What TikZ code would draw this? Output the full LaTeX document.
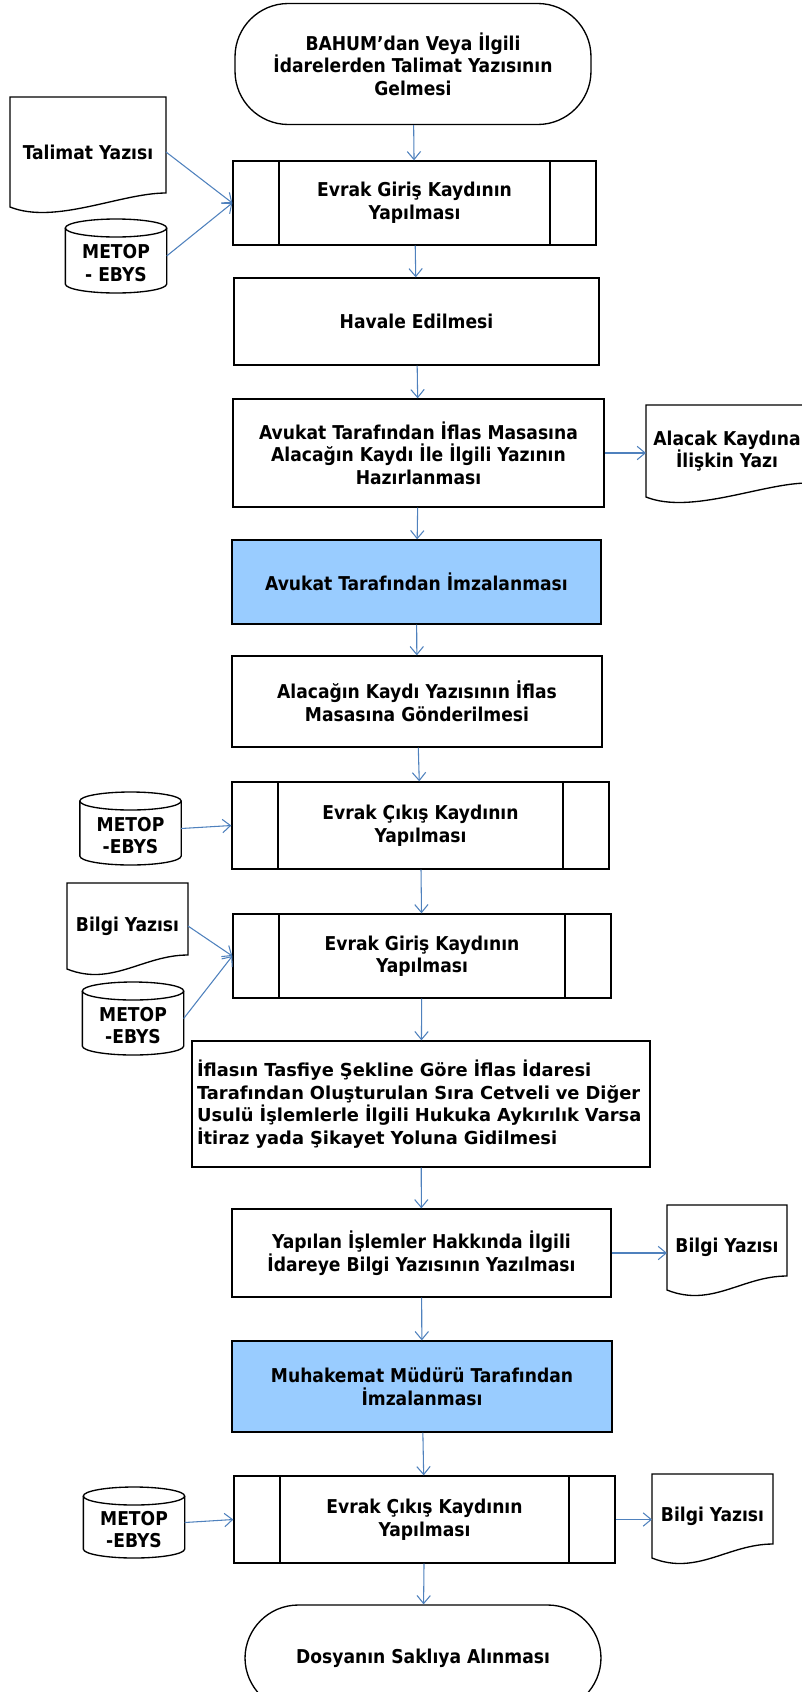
\documentclass[tikz,border=0pt]{standalone}
\usepackage{fontspec}
\setmainfont{DejaVu Sans Condensed}
\newfontfamily\genisyazi{DejaVu Sans}
\usepackage{xcolor}
\usepackage{tikz}
\usetikzlibrary{arrows.meta,calc}

\definecolor{okmavi}{RGB}{79,129,189}
\definecolor{imzamavi}{RGB}{153,204,255}
\newcommand{\yazi}{\fontsize{14.3pt}{16.9pt}\selectfont\bfseries}
\newcommand{\vtbosluk}{\rule{0pt}{21pt}}

% belge sekli (alt kenari dalgali)
\newcommand{\belgeciz}[1]{%
  \draw[cizgi] (#1.north west) -- (#1.north east) -- ($(#1.south east)+(0,-14)$)
    .. controls +(-45,0) and +(45,18) .. (#1.south west) -- cycle;}
% veritabani silindiri
\newcommand{\vtciz}[1]{%
  \draw[cizgi] ([yshift=-6.75pt]#1.north west) -- ([yshift=6.75pt]#1.south west)
    arc[start angle=180,end angle=360,x radius=38pt,y radius=6.75pt]
    -- ([yshift=-6.75pt]#1.north east);
  \draw[cizgi] ([yshift=-6.75pt]#1.north) ellipse[x radius=38pt,y radius=6.75pt];}
% alt surec cizgileri
\newcommand{\altsurec}[1]{%
  \draw[cizgi] ([xshift=35pt]#1.north west) -- ([xshift=35pt]#1.south west);
  \draw[cizgi] ([xshift=-35pt]#1.north east) -- ([xshift=-35pt]#1.south east);}

\begin{document}
\begin{tikzpicture}[x=0.75pt,y=-0.75pt,
    cizgi/.style={line width=1pt},
    kutu/.style={draw, cizgi, align=center, font=\yazi, inner sep=2pt},
    uc/.style={kutu, rounded corners=40pt},
    imza/.style={kutu, fill=imzamavi},
    belge/.style={align=center, font=\yazi, inner sep=0pt, outer sep=0pt},
    vt/.style={align=center, font=\yazi, inner sep=0pt, outer sep=0pt,
      minimum width=76pt},
    ok/.style={->, draw=okmavi, line width=0.8pt,
      >={Straight Barb[length=6pt,width=10pt]}}]
    \useasboundingbox (0,0) rectangle (802,1692);

    % baslangic
    \node[uc, minimum width=267pt, minimum height=90.75pt] (basla) at (413,64)
        {BAHUM'dan Veya İlgili\\İdarelerden Talimat Yazısının\\Gelmesi};
    \node[belge, minimum width=117pt, minimum height=82.5pt] (talimat) at (88,152) {Talimat Yazısı};
    \node[vt, minimum height=55.5pt] (metop1) at (116,256) {\vtbosluk METOP\\- EBYS};
    \node[kutu, minimum width=272.25pt, minimum height=63pt] (giris1) at (414.5,203)
        {Evrak Giriş Kaydının\\Yapılması};
    \node[kutu, minimum width=273.75pt, minimum height=65.25pt] (havale) at (416.5,321.5)
        {Havale Edilmesi};
    \node[kutu, minimum width=278.25pt, minimum height=81pt] (avukat) at (418.5,453)
        {Avukat Tarafından İflas Masasına\\Alacağın Kaydı İle İlgili Yazının\\Hazırlanması};
    \node[belge, minimum width=121.5pt, minimum height=69pt] (alacak) at (727,451)
        {Alacak Kaydına\\İlişkin Yazı};
    \node[imza, minimum width=276.75pt, minimum height=63pt] (imza1) at (416.5,582)
        {Avukat Tarafından İmzalanması};
    \node[kutu, minimum width=277.5pt, minimum height=68.25pt] (gonder) at (417,701.5)
        {Alacağın Kaydı Yazısının İflas\\Masasına Gönderilmesi};

    % cikis ve giris kayitlari
    \node[kutu, minimum width=282.75pt, minimum height=65.25pt] (cikis1) at (420.5,825.5)
        {Evrak Çıkış Kaydının\\Yapılması};
    \node[vt, minimum height=54.75pt] (metop2) at (130.5,828.5) {\vtbosluk METOP\\-EBYS};
    \node[belge, minimum width=90.75pt, minimum height=64.5pt] (bilgi1) at (127.5,926) {Bilgi Yazısı};
    \node[kutu, minimum width=283.5pt, minimum height=63pt] (giris2) at (422,956)
        {Evrak Giriş Kaydının\\Yapılması};
    \node[vt, minimum height=54.75pt] (metop3) at (133,1018.5) {\vtbosluk METOP\\-EBYS};
    \node[kutu, minimum width=343.5pt, minimum height=94.5pt, inner xsep=1pt,
        text width=336pt, align=left, font=\genisyazi\fontsize{13.4pt}{16.9pt}\selectfont\bfseries]
        (itiraz) at (421,1104)
        {İflasın Tasfiye Şekline Göre İflas İdaresi\\Tarafından Oluşturulan Sıra Cetveli ve Diğer\\Usulü İşlemlerle İlgili Hukuka Aykırılık Varsa\\İtiraz yada Şikayet Yoluna Gidilmesi};
    \node[kutu, minimum width=284.25pt, minimum height=66pt] (bildir) at (421.5,1253)
        {Yapılan İşlemler Hakkında İlgili\\İdareye Bilgi Yazısının Yazılması};
    \node[belge, minimum width=90pt, minimum height=63.75pt] (bilgi2) at (727,1247.5) {Bilgi Yazısı};
    \node[imza, minimum width=285pt, minimum height=68.25pt] (imza2) at (422,1386.5)
        {Muhakemat Müdürü Tarafından\\İmzalanması};
    \node[kutu, minimum width=285.75pt, minimum height=65.25pt] (cikis2) at (424.5,1519.5)
        {Evrak Çıkış Kaydının\\Yapılması};
    \node[vt, minimum height=53.25pt] (metop4) at (134,1522.5) {\vtbosluk METOP\\-EBYS};
    \node[belge, minimum width=90.75pt, minimum height=63pt] (bilgi3) at (712.5,1516) {Bilgi Yazısı};
    \node[uc, minimum width=267pt, minimum height=79.5pt] (bitis) at (423,1658)
        {Dosyanın Saklıya Alınması};

    % sekiller
    \belgeciz{talimat} \belgeciz{alacak} \belgeciz{bilgi1} \belgeciz{bilgi2} \belgeciz{bilgi3}
    \vtciz{metop1} \vtciz{metop2} \vtciz{metop3} \vtciz{metop4}
    \altsurec{giris1} \altsurec{cikis1} \altsurec{giris2} \altsurec{cikis2}

    % oklar
    \draw[ok] (basla) -- (giris1);
    \draw[ok] (talimat.east) -- (giris1.west);
    \draw[ok] (metop1.east) -- (giris1.west);
    \draw[ok] (giris1) -- (havale);
    \draw[ok] (havale) -- (avukat);
    \draw[ok] (avukat.east) -- (avukat.east -| alacak.west);
    \draw[ok] (avukat) -- (imza1);
    \draw[ok] (imza1) -- (gonder);
    \draw[ok] (gonder) -- (cikis1);
    \draw[ok] (metop2.east) -- (cikis1.west);
    \draw[ok] (cikis1) -- (giris2);
    \draw[ok] (bilgi1.east) -- (giris2.west);
    \draw[ok] (metop3.east) -- (giris2.west);
    \draw[ok] (giris2) -- (itiraz);
    \draw[ok] (itiraz) -- (bildir);
    \draw[ok] (bildir.east) -- (bildir.east -| bilgi2.west);
    \draw[ok] (bildir) -- (imza2);
    \draw[ok] (imza2) -- (cikis2);
    \draw[ok] (metop4.east) -- (cikis2.west);
    \draw[ok] (cikis2.east) -- (cikis2.east -| bilgi3.west);
    \draw[ok] (cikis2) -- (bitis);
\end{tikzpicture}
\end{document}
